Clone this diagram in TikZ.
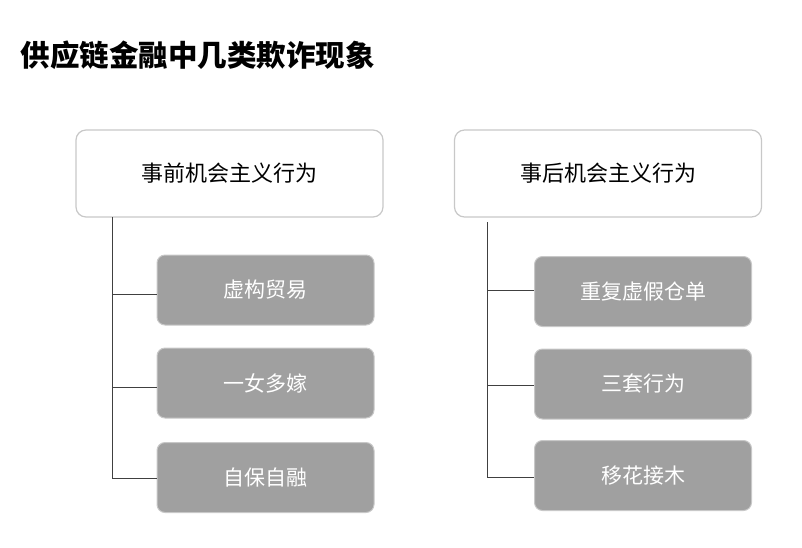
\documentclass[tikz,border=0pt]{standalone}
\usepackage{fontspec}
\setmainfont{Noto Sans CJK SC}
\usetikzlibrary{positioning}
\definecolor{BoxGray}{HTML}{A0A0A0}
\definecolor{EdgeGray}{HTML}{C8C8C8}
\definecolor{LineGray}{HTML}{404040}
\tikzset{
    head/.style = {draw=EdgeGray, line width=1.2pt, rounded corners=10pt, fill=white,
        minimum width=307pt, minimum height=87pt, font=\fontsize{22}{25}\selectfont},
    leaf/.style = {draw=EdgeGray, line width=1pt, rounded corners=8pt, fill=BoxGray,
        text=white, minimum width=217pt, minimum height=70pt, font=\fontsize{21}{24}\selectfont},
    link/.style = {draw=LineGray, line width=0.6pt}
}
\begin{document}
\begin{tikzpicture}[x=1pt,y=-1pt]
                \useasboundingbox (0,0) rectangle (802,547);
                \node[anchor=west,font=\fontsize{29.5}{33}\selectfont\bfseries] (title) at (17,55) {供应链金融中几类欺诈现象};
                % left column
                \node[head] (pre) at (229.5,173.5) {事前机会主义行为};
                \node[leaf] (fake) at (265.5,290) {虚构贸易};
                \node[leaf] (multi) at (265.5,383) {一女多嫁};
                \node[leaf] (self) at (265.5,477.5) {自保自融};
                \coordinate (preroot) at (112,217);
                \coordinate (prebot) at (112,478);
                \draw[link] (preroot) -- (prebot);
                \draw[link] (112,294) -- (fake.west |- 0,294);
                \draw[link] (112,387) -- (multi.west |- 0,387);
                \draw[link] (prebot) -- (self.west |- 0,478);
                % right column
                \node[head] (post) at (608,173.5) {事后机会主义行为};
                \node[leaf] (dup) at (643,291.5) {重复虚假仓单};
                \node[leaf] (three) at (643,384) {三套行为};
                \node[leaf] (graft) at (643,475.5) {移花接木};
                \coordinate (postroot) at (487,222);
                \coordinate (postbot) at (487,477);
                \draw[link] (postroot) -- (postbot);
                \draw[link] (487,290) -- (dup.west |- 0,290);
                \draw[link] (487,385) -- (three.west |- 0,385);
                \draw[link] (postbot) -- (graft.west |- 0,477);
\end{tikzpicture}
\end{document}
